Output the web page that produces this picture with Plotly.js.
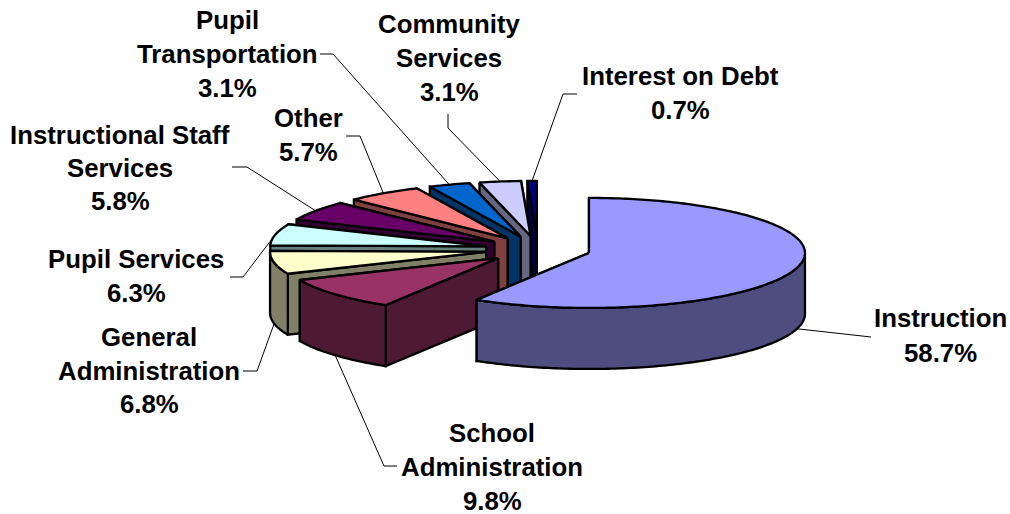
<!DOCTYPE html>
<html>
<head>
<meta charset="utf-8">
<script src="https://cdn.plot.ly/plotly-3.0.1.min.js"></script>
<style>html,body{margin:0;padding:0;background:#fff}#chart{width:1010px;height:514px}</style>
</head>
<body>
<div id="chart"></div>
<script>
// District expenditure shares, clockwise from twelve o'clock.
const categories = ['Instruction', 'School Administration', 'General Administration', 'Pupil Services',
  'Instructional Staff Services', 'Other', 'Pupil Transportation', 'Community Services', 'Interest on Debt'];
const values = [58.7, 9.8, 6.8, 6.3, 5.8, 5.7, 3.1, 3.1, 0.7];
const labelLines = [['Instruction'], ['School', 'Administration'], ['General', 'Administration'], ['Pupil Services'],
  ['Instructional Staff', 'Services'], ['Other'], ['Pupil', 'Transportation'], ['Community', 'Services'], ['Interest on Debt']];
const topColors = ['#9999FF', '#993366', '#FFFFCC', '#CCFFFF', '#660066', '#FF8080', '#0066CC', '#CCCCFF', '#000080'];
const sideColors = ['#4D4D80', '#4D1933', '#808066', '#668080', '#330033', '#804040', '#003366', '#666680', '#000040'];

// Label anchors: centre x, first line y.
const labelX = [940, 492, 149, 136, 120, 308, 227, 449, 680];
const labelY = [318, 433, 337, 259, 135, 118, 20, 24, 76];
const lineStep = [35, 34, 33.5, 34, 33, 34, 34, 34, 34];
// Elbows of the leader lines: knee and end beside the label.
const leaderKnee = [[865, 337], [384, 466], [257, 371], [243, 277], [247, 167], [360, 136], [333, 54], [448, 128], [563, 94]];
const leaderEnd = [[871, 337], [397, 466], [243, 371], [230, 277], [232, 167], [346, 136], [320, 54], [448, 114], [577, 94]];

// Projection of the tilted pie.
const cx = 538, cy = 249.3, rx = 216, ry = 55, depth = 61, explode = 0.245;
const edgeWidth = 2.3;
const rad = d => d * Math.PI / 180;
const total = values.reduce((a, b) => a + b, 0);

const traces = [];
function poly(pts, fill) {
  const closed = pts.concat([pts[0]]);
  traces.push({
    type: 'scatter', mode: 'lines', x: closed.map(p => p[0]), y: closed.map(p => p[1]),
    fill: 'toself', fillcolor: fill, line: {color: '#000', width: edgeWidth, simplify: false},
    hoverinfo: 'skip', showlegend: false
  });
}

let acc = 0;
const wedges = values.map(v => {
  const start = acc / total * 360; acc += v;
  const end = acc / total * 360, mid = (start + end) / 2;
  return {start, end, mid,
    ax: cx + explode * rx * Math.sin(rad(mid)),
    ay: cy - explode * ry * Math.cos(rad(mid))};
});
const rim = (w, deg, drop) => [w.ax + rx * Math.sin(rad(deg)), w.ay - ry * Math.cos(rad(deg)) + drop];

// Leader lines lie under the slices.
wedges.forEach((w, i) => {
  const front = w.mid > 90 && w.mid < 270;
  const s = [cx + (1 + explode) * rx * Math.sin(rad(w.mid)),
             cy - (1 + explode) * ry * Math.cos(rad(w.mid)) + (front ? depth : 0)];
  traces.push({
    type: 'scatter', mode: 'lines',
    x: [s[0], leaderKnee[i][0], leaderEnd[i][0]], y: [s[1], leaderKnee[i][1], leaderEnd[i][1]],
    line: {color: '#000', width: 1}, hoverinfo: 'skip', showlegend: false
  });
});

// Painter's order: furthest slice first, Instruction last.
for (let i = wedges.length - 1; i >= 0; i--) {
  const w = wedges[i];
  const apex = [w.ax, w.ay], apexLow = [w.ax, w.ay + depth];
  poly([apex, rim(w, w.end, 0), rim(w, w.end, depth), apexLow], sideColors[i]);
  poly([apex, rim(w, w.start, 0), rim(w, w.start, depth), apexLow], sideColors[i]);

  const from = Math.max(w.start, 90), to = Math.min(w.end, 270);
  if (to > from) {
    const upper = [], lower = [];
    for (let d = from; d < to; d += 1) { upper.push(rim(w, d, 0)); lower.push(rim(w, d, depth)); }
    upper.push(rim(w, to, 0)); lower.push(rim(w, to, depth));
    poly(upper.concat(lower.reverse()), sideColors[i]);
  }
  const top = [apex];
  for (let d = w.start; d < w.end; d += 1) top.push(rim(w, d, 0));
  top.push(rim(w, w.end, 0));
  poly(top, topColors[i]);
}

// Each text line is placed on its own so the line pitch stays even.
const annotations = [];
categories.forEach((c, i) => {
  labelLines[i].concat([values[i].toFixed(1) + '%']).forEach((t, k) => {
    annotations.push({
      xref: 'x', yref: 'y', x: labelX[i], y: labelY[i] + k * lineStep[i], text: t, showarrow: false,
      xanchor: 'center', yanchor: 'middle',
      font: {family: '"Liberation Sans", Arial, sans-serif', size: 25.8, color: '#000', weight: 700}
    });
  });
});

const hidden = {visible: false, fixedrange: true};
Plotly.newPlot('chart', traces, {
  width: 1010, height: 514, margin: {l: 0, r: 0, t: 0, b: 0},
  paper_bgcolor: '#fff', plot_bgcolor: '#fff', showlegend: false,
  xaxis: Object.assign({range: [0, 1010]}, hidden),
  yaxis: Object.assign({range: [514, 0]}, hidden),
  annotations
}, {displayModeBar: false, staticPlot: true});
</script>
</body>
</html>
